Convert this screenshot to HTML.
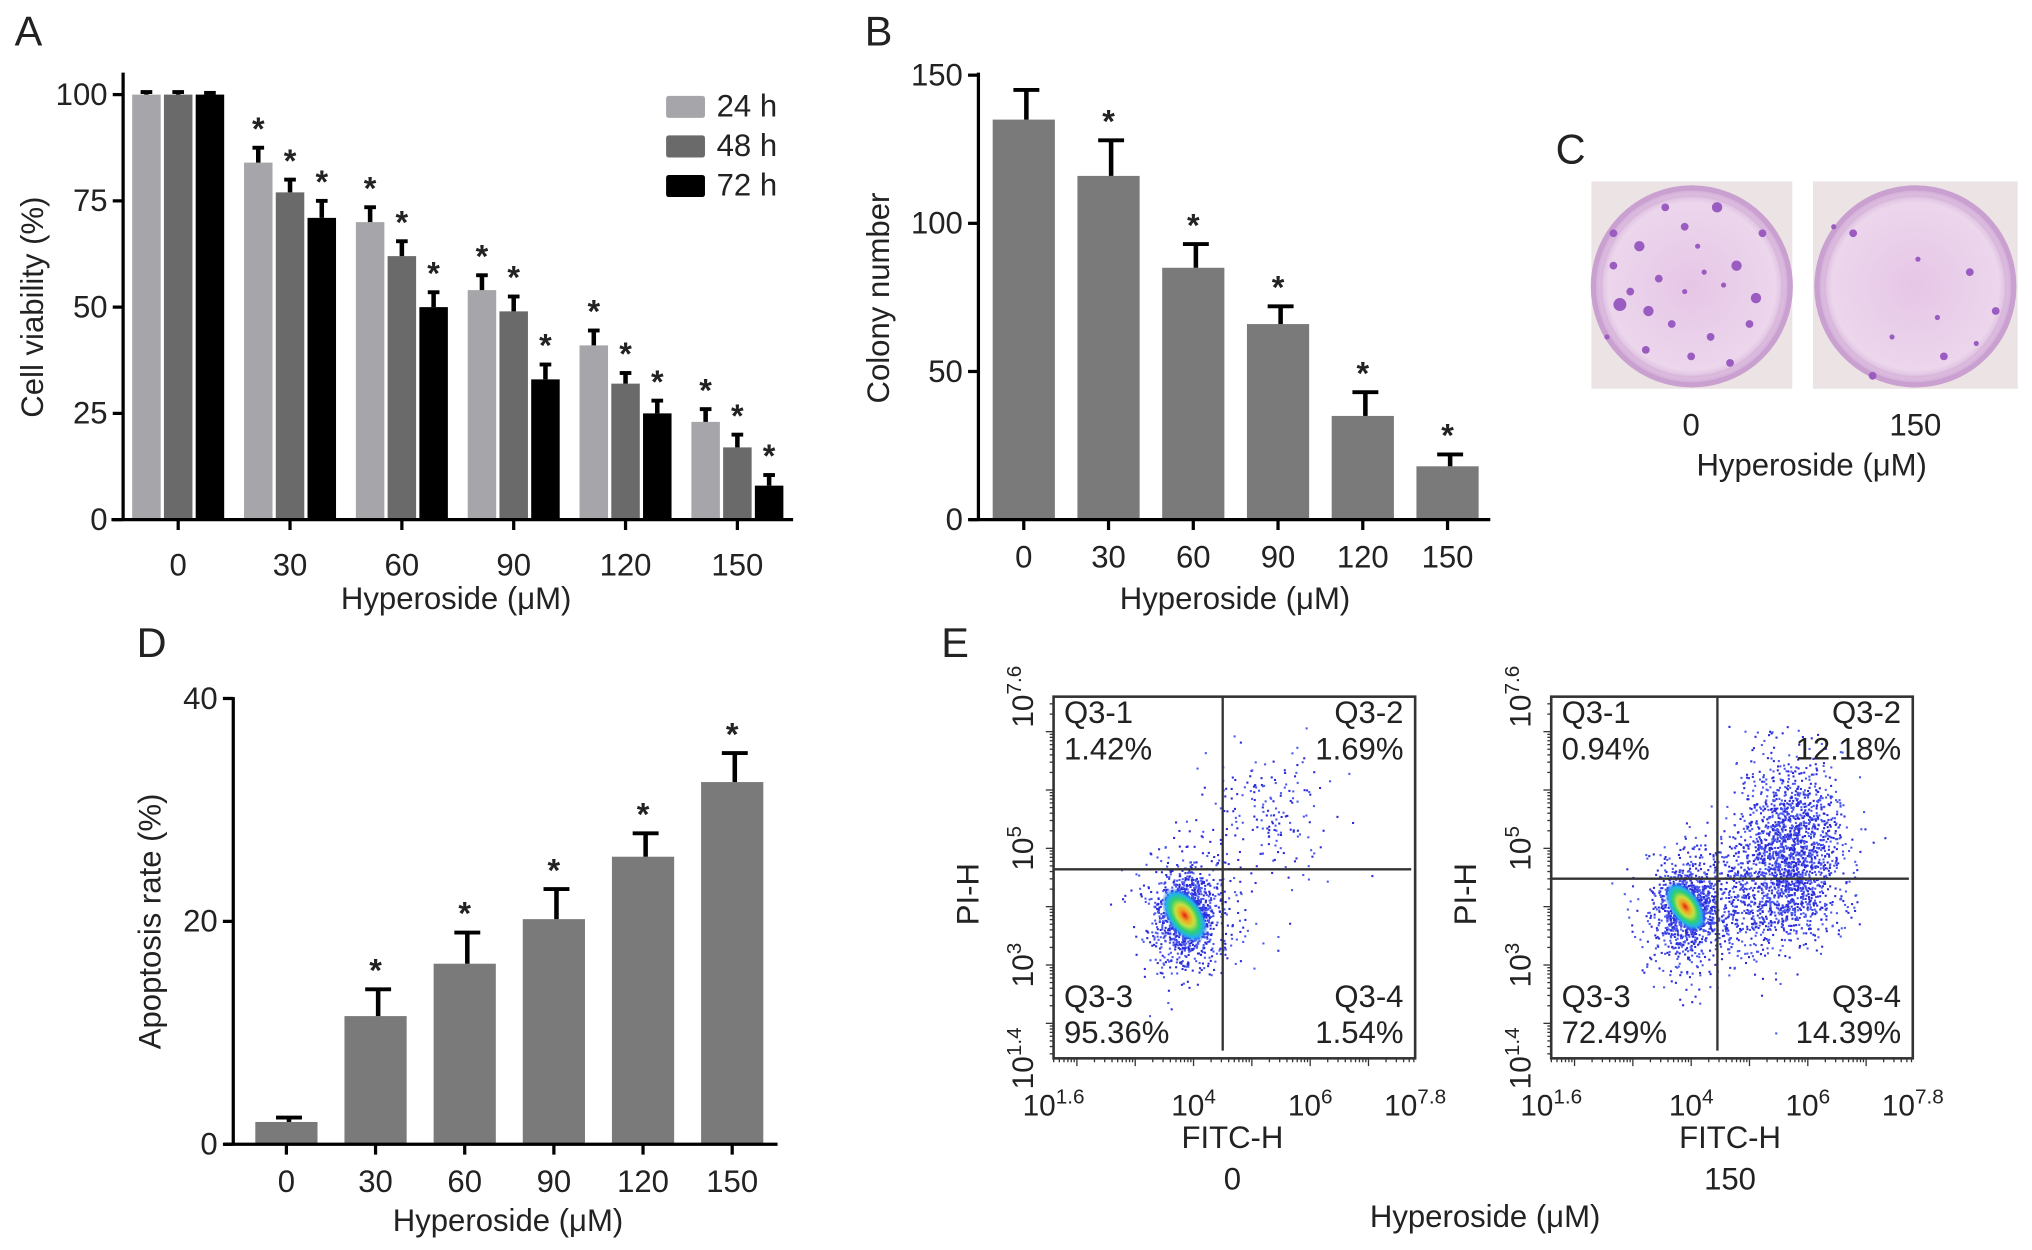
<!DOCTYPE html>
<html><head><meta charset="utf-8">
<style>
html,body{margin:0;padding:0;background:#fff;width:2032px;height:1250px;overflow:hidden}
svg{display:block}
text{font-family:"Liberation Sans",Arial,sans-serif;fill:#222}
</style></head>
<body>
<svg id="fig" width="2032" height="1250" viewBox="0 0 1568 964.6" preserveAspectRatio="none" xmlns="http://www.w3.org/2000/svg">
<defs>
<radialGradient id="core" cx="50%" cy="50%" r="50%">
<stop offset="0" stop-color="#e0201a"/><stop offset="0.2" stop-color="#f0a020"/><stop offset="0.4" stop-color="#c8e040"/><stop offset="0.6" stop-color="#30d070"/><stop offset="0.8" stop-color="#20b0f0"/><stop offset="1" stop-color="#2040f0" stop-opacity="0"/>
</radialGradient>
<radialGradient id="plate" cx="50%" cy="50%" r="50%">
<stop offset="0" stop-color="#e6c6e6"/><stop offset="0.85" stop-color="#ecd6ec"/><stop offset="1" stop-color="#cfa8d6"/>
</radialGradient>
</defs>
</svg>
<script>
// ---- Panel A data ----
const aCategories = ["0","30","60","90","120","150"];
const aSeriesNames = ["24 h","48 h","72 h"];
const a24 = [100,84,70,54,41,23];
const a48 = [100,77,62,49,32,17];
const a72 = [100,71,50,33,25,8];
const a24err = [0.6,3.5,3.5,3.5,3.5,3];
const a48err = [0.6,3,3.5,3.5,2.5,3];
const a72err = [0.4,4,3.5,3.5,3,2.5];
const aYTicks = [0,25,50,75,100];
// ---- Panel B data ----
const bCategories = ["0","30","60","90","120","150"];
const bValues = [135,116,85,66,35,18];
const bErr = [10,12,8,6,8,4];
const bYTicks = [0,50,100,150];
// ---- Panel D data ----
const dCategories = ["0","30","60","90","120","150"];
const dValues = [2,11.5,16.2,20.2,25.8,32.5];
const dErr = [0.4,2.4,2.8,2.7,2.1,2.6];
const dYTicks = [0,20,40];
// ---- Panel E data ----
const eConditions = ["0","150"];
const eQuadLabels = ["Q3-1","Q3-2","Q3-3","Q3-4"];
const eQuadPct0 = ["1.42%","1.69%","95.36%","1.54%"];
const eQuadPct150 = ["0.94%","12.18%","72.49%","14.39%"];
const eGate0 = [4.5,4.64]; // FITC, PI gate (log10)
const eGate150 = [4.45,4.48];
// clusters: [centerX, centerY, sdX, sdY, count] in log10 units
const eClusters0 = [[3.85,3.85,0.22,0.32,900],[3.95,3.9,0.45,0.6,500],[5.3,5.6,0.55,0.55,180]];
const eClusters150 = [[3.9,4.0,0.25,0.3,700],[4.1,3.9,0.5,0.55,600],[5.7,5.1,0.45,0.7,1400],[5.4,4.2,0.55,0.45,600]];
const eAxisTicksX = [1.6,4,6,7.8];
const eAxisTicksY = [1.4,3,5,7.6];

const NS="http://www.w3.org/2000/svg";
const svg=document.getElementById('fig');
function mk(tag,attrs,parent){const e=document.createElementNS(NS,tag);for(const k in attrs)e.setAttribute(k,attrs[k]);(parent||svg).appendChild(e);return e;}
function txt(s,x,y,size,anchor,parent,extra){const t=mk('text',Object.assign({x:x,y:y,'font-size':size,'text-anchor':anchor||'middle'},extra||{}),parent);t.textContent=s;return t;}
function grp(name){const g=mk('g',{});return g;}

function errBar(g,cx,yTop,yErr,w){
  const l=mk('line',{x1:cx,x2:cx,y1:yTop,y2:yErr,stroke:'#000','stroke-width':3.5},g);
  
  
  const c=mk('line',{x1:cx-w/2,x2:cx+w/2,y1:yErr,y2:yErr,stroke:'#000','stroke-width':3},g);
  
  
}
function star(g,cx,y){const s=txt('*',cx,y+12,25,'middle',g,{'font-weight':'bold','fill':'#000'});
  
  }

const FS=24;
// ================= Panel A =================
(function(){
  const g=grp('panel-a');
  txt('A',22,35,32,'middle',g);
  const x0=95,yZero=401,yMax=73,ymaxV=100;
  const ys=v=>yZero-(yZero-yMax)*v/ymaxV;
  const xc=i=>137.5+i*86.3;
  const series=[a24,a48,a72],errs=[a24err,a48err,a72err],cols=['#a6a6aa','#6a6a6a','#000'];
  const bw=22,step=24.5;
  aCategories.forEach((c,i)=>{
    series.forEach((s,k)=>{
      const cx=xc(i)+(k-1)*step;
      const r=mk('rect',{x:cx-bw/2,y:ys(s[i]),width:bw,height:yZero-ys(s[i]),fill:cols[k]},g);
      
      
      errBar(g,cx,ys(s[i]),ys(s[i]+errs[k][i]),9);
      if(i>0) star(g,cx,ys(s[i]+errs[k][i])-18);
    });
    const tl=txt(c,xc(i),444,FS,'middle',g);
    
    
    mk('line',{x1:xc(i),x2:xc(i),y1:yZero,y2:yZero+8,stroke:'#000','stroke-width':2.5},g);
  });
  mk('line',{x1:x0,x2:x0,y1:56,y2:yZero,stroke:'#000','stroke-width':2.5},g);
  mk('line',{x1:86,x2:612,y1:yZero,y2:yZero,stroke:'#000','stroke-width':2.5},g);
  aYTicks.forEach(v=>{mk('line',{x1:x0-8,x2:x0,y1:ys(v),y2:ys(v),stroke:'#000','stroke-width':2.5},g);
    const t=txt(String(v),x0-12,ys(v)+8,FS,'end',g);
    
    });
  const yt=txt('Cell viability (%)',33,237,FS,'middle',g,{transform:'rotate(-90 33 237)'});
  
  
  const xt=txt('Hyperoside (\u03bcM)',352,470,FS,'middle',g);
  
  
  aSeriesNames.forEach((n,k)=>{
    const lg=mk('g',{},g);
    
    
    mk('rect',{x:514,y:74+k*30.5,width:30,height:17,rx:2,fill:cols[k]},lg);
    txt(n,553,90+k*30.5,FS,'start',lg);
  });
})();

// ================= Panel B =================
(function(){
  const g=grp('panel-b');
  txt('B',678,35,32,'middle',g);
  const x0=755,yZero=401,yTop=58,vmax=150;
  const ys=v=>yZero-(yZero-yTop)*v/vmax;
  const xc=i=>790+i*65.4;
  bCategories.forEach((c,i)=>{
    const r=mk('rect',{x:xc(i)-24,y:ys(bValues[i]),width:48,height:yZero-ys(bValues[i]),fill:'#7a7a7a'},g);
    
    
    errBar(g,xc(i)+2,ys(bValues[i]),ys(bValues[i]+bErr[i]),20);
    if(i>0) star(g,xc(i),ys(bValues[i]+bErr[i])-18);
    const tl=txt(c,xc(i),438,FS,'middle',g);
    
    
    mk('line',{x1:xc(i),x2:xc(i),y1:yZero,y2:yZero+8,stroke:'#000','stroke-width':2.5},g);
  });
  mk('line',{x1:x0,x2:x0,y1:yTop-2,y2:yZero,stroke:'#000','stroke-width':2.5},g);
  mk('line',{x1:748,x2:1150,y1:yZero,y2:yZero,stroke:'#000','stroke-width':2.5},g);
  bYTicks.forEach(v=>{mk('line',{x1:x0-8,x2:x0,y1:ys(v),y2:ys(v),stroke:'#000','stroke-width':2.5},g);
    const t=txt(String(v),x0-12,ys(v)+8,FS,'end',g);
    
    });
  const yt=txt('Colony number',686,230,FS,'middle',g,{transform:'rotate(-90 686 230)'});
  
  
  const xt=txt('Hyperoside (\u03bcM)',953,470,FS,'middle',g);
  
  
})();

// ================= Panel C =================
(function(){
  const g=grp('panel-c');
  txt('C',1212,126,32,'middle',g);
  const plates=[[1228,140,155,160],[1399,140,158,160]];
  plates.forEach((p,k)=>{
    const pg=mk('g',{},g);
    
    
    mk('rect',{x:p[0],y:p[1],width:p[2],height:p[3],fill:'#ece4e4'},pg);
    mk('circle',{cx:p[0]+p[2]/2,cy:p[1]+p[3]/2+1,r:76,fill:'url(#plate)',stroke:'#c9a0cf','stroke-width':4},pg);
    mk('circle',{cx:p[0]+p[2]/2,cy:p[1]+p[3]/2+1,r:70,fill:'none',stroke:'#d9b8dc','stroke-width':2},pg);
  });
  const dots0=[[1265,190,4],[1280,215,3],[1300,175,3],[1340,205,4],[1250,235,5],[1320,260,3],[1355,230,4],[1290,250,3],[1245,205,3],[1310,190,2],[1270,270,3],[1360,180,3],[1335,280,3],[1300,225,2],[1240,260,2],[1325,160,4],[1285,160,3],[1258,225,3],[1272,240,4],[1350,250,3],[1330,220,2],[1245,180,3],[1305,275,3],[1315,210,2]];
  dots0.forEach(d=>mk('circle',{cx:d[0],cy:d[1],r:d[2],fill:'#9a5cc0'},g));
  const dots150=[[1430,180,3],[1480,200,2],[1520,210,3],[1540,240,3],[1460,260,2],[1500,275,3],[1445,290,3],[1415,175,2],[1495,245,2],[1525,265,2]];
  dots150.forEach(d=>mk('circle',{cx:d[0],cy:d[1],r:d[2],fill:'#9a5cc0'},g));
  txt('0',1305,336,FS,'middle',g);
  txt('150',1478,336,FS,'middle',g);
  const xt=txt('Hyperoside (\u03bcM)',1398,367,FS,'middle',g);
  
  
})();

// ================= Panel D =================
(function(){
  const g=grp('panel-d');
  txt('D',117,507,32,'middle',g);
  const x0=180,yZero=883,yTop=539,vmax=40;
  const ys=v=>yZero-(yZero-yTop)*v/vmax;
  const xc=i=>221+i*68.8;
  dCategories.forEach((c,i)=>{
    const r=mk('rect',{x:xc(i)-24,y:ys(dValues[i]),width:48,height:yZero-ys(dValues[i]),fill:'#7a7a7a'},g);
    
    
    errBar(g,xc(i)+2,ys(dValues[i]),ys(dValues[i]+dErr[i]),20);
    if(i>0) star(g,xc(i),ys(dValues[i]+dErr[i])-18);
    const tl=txt(c,xc(i),920,FS,'middle',g);
    
    
    mk('line',{x1:xc(i),x2:xc(i),y1:yZero,y2:yZero+8,stroke:'#000','stroke-width':2.5},g);
  });
  mk('line',{x1:x0,x2:x0,y1:yTop-1,y2:yZero,stroke:'#000','stroke-width':2.5},g);
  mk('line',{x1:173,x2:600,y1:yZero,y2:yZero,stroke:'#000','stroke-width':2.5},g);
  dYTicks.forEach(v=>{mk('line',{x1:x0-8,x2:x0,y1:ys(v),y2:ys(v),stroke:'#000','stroke-width':2.5},g);
    const t=txt(String(v),x0-12,ys(v)+8,FS,'end',g);
    
    });
  const yt=txt('Apoptosis rate (%)',124,711,FS,'middle',g,{transform:'rotate(-90 124 711)'});
  
  
  const xt=txt('Hyperoside (\u03bcM)',392,950,FS,'middle',g);
  
  
})();

// ================= Panel E =================
let seed=12345;
function rnd(){seed=(seed*1103515245+12345)%2147483648;return seed/2147483648;}
function gauss(){let u=rnd()||1e-6,v=rnd();return Math.sqrt(-2*Math.log(u))*Math.cos(2*Math.PI*v);}
function flowPlot(left,cond,pcts,gate,clusters,cores){
  const g=grp('flow-plot-'+cond);
  const L=left,R=left+279,T=537.6,B=816.7;
  const xs=v=>L+(v-1.6)*(R-L)/6.2;
  const ys=v=>B-(v-1.4)*(B-T)/6.2;
  const pts=mk('g',{},g);
  
  
  clusters.forEach(cl=>{
    for(let n=0;n<cl[4];n++){
      const vx=cl[0]+gauss()*cl[2], vy=cl[1]+gauss()*cl[3]+(gauss()*cl[2])*0.3;
      const px=xs(vx),py=ys(vy);
      if(px<L+2||px>R-2||py<T+2||py>B-2)continue;
      mk('rect',{x:px,y:py,width:1.6,height:1.6,fill:rnd()<0.5?'#2a2ad8':'#4a58f0'},pts);
    }
  });
  cores.forEach(c=>mk('ellipse',{cx:xs(c[0]),cy:ys(c[1]),rx:c[2],ry:c[3],fill:'url(#core)',transform:'rotate(-35 '+xs(c[0])+' '+ys(c[1])+')'},g));
  mk('rect',{x:L,y:T,width:R-L,height:B-T,fill:'none',stroke:'#333','stroke-width':2},g);
  mk('line',{x1:xs(gate[0]),x2:xs(gate[0]),y1:T,y2:B-6,stroke:'#333','stroke-width':1.8},g);
  mk('line',{x1:L,x2:R-3,y1:ys(gate[1]),y2:ys(gate[1]),stroke:'#333','stroke-width':1.8},g);
  for(let d=1;d<=7;d++){for(let m=1;m<10;m++){const v=d+Math.log10(m);
    if(v>=1.6&&v<=7.8) mk('line',{x1:xs(v),x2:xs(v),y1:B,y2:B+(m==1?6:3),stroke:'#333','stroke-width':1},g);
    if(v>=1.4&&v<=7.6) mk('line',{x1:L,x2:L-(m==1?6:3),y1:ys(v),y2:ys(v),stroke:'#333','stroke-width':1},g);}}
  eAxisTicksX.forEach(v=>{const t=mk('text',{x:xs(v),y:B+44,'font-size':23,'text-anchor':'middle'},g);
    
    
    t.innerHTML='10<tspan dy="-9" font-size="16">'+v+'</tspan>';});
  eAxisTicksY.forEach(v=>{const cx=L-16,cy=ys(v);
    const t=mk('text',{x:cx,y:cy,'font-size':23,'text-anchor':'middle',transform:'rotate(-90 '+cx+' '+cy+')'},g);
    
    
    t.innerHTML='10<tspan dy="-9" font-size="16">'+v+'</tspan>';});
  const yl=txt('PI-H',L-58,690,FS,'middle',g,{transform:'rotate(-90 '+(L-58)+' 690)'});
  
  
  const xl=txt('FITC-H',L+138,886,FS,'middle',g);
  
  
  txt(cond,L+138,918,FS,'middle',g);
  const pos=[[L+8,'start',558],[R-9,'end',558],[L+8,'start',777],[R-9,'end',777]];
  eQuadLabels.forEach((q,i)=>{
    const qg=mk('g',{},g);
    
    
    txt(q,pos[i][0],pos[i][2],FS,pos[i][1],qg);
    txt(pcts[i],pos[i][0],pos[i][2]+28,FS,pos[i][1],qg);
  });
}
txt('E',737,507,32,'middle');
flowPlot(813,eConditions[0],eQuadPct0,eGate0,eClusters0,[[3.85,3.85,14,24]]);
seed=777;
flowPlot(1197,eConditions[1],eQuadPct150,eGate150,eClusters150,[[3.9,4.0,12,22]]);
(function(){const t=txt('Hyperoside (\u03bcM)',1146,947,FS,'middle');

})();
</script>
</body></html>
